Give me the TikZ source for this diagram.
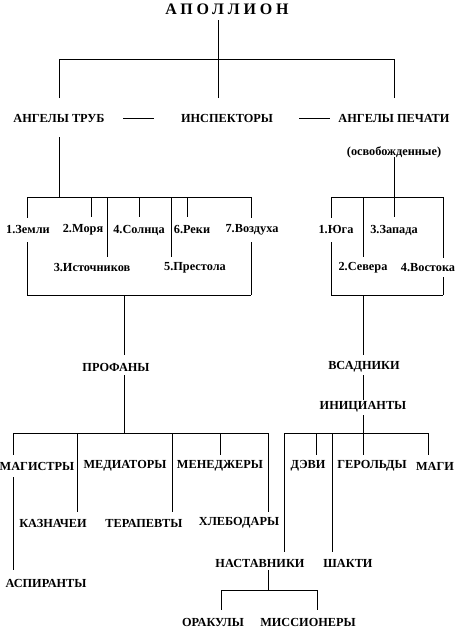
\documentclass[tikz,border=0pt]{standalone}
\usepackage{fontspec}
\setmainfont{Liberation Serif}
\begin{document}
\begin{tikzpicture}[x=1pt,y=-1pt,
  every node/.style={font=\bfseries\fontsize{12.3}{14}\selectfont, inner sep=0pt},
  ln/.style={line width=1pt}]
\useasboundingbox (0,0) rectangle (456,630);
% nodes
\node (title) at (227,9.5) {\fontsize{16}{18}\selectfont\addfontfeatures{LetterSpace=24}АПОЛЛИОН};
\node (tr) at (59,118) {АНГЕЛЫ ТРУБ};
\node (insp) at (227,118) {ИНСПЕКТОРЫ};
\node (pech) at (394,118) {АНГЕЛЫ ПЕЧАТИ};
\node (osv) at (394,152) {(освобожденные)};
\node (z1) at (28,230) {1.Земли};
\node (z2) at (83,230) {2.Моря};
\node (z4) at (139,230) {4.Солнца};
\node (z6) at (192,230) {6.Реки};
\node (z7) at (252,230) {7.Воздуха};
\node (z3) at (92,268) {3.Источников};
\node (z5) at (195,268) {5.Престола};
\node (s1) at (336,230) {1.Юга};
\node (s3) at (394,230) {3.Запада};
\node (s2) at (363,268) {2.Севера};
\node (s4) at (428,268) {4.Востока};
\node (prof) at (116,367) {ПРОФАНЫ};
\node (vsad) at (364,367) {ВСАДНИКИ};
\node (init) at (363,407) {ИНИЦИАНТЫ};
\node (mag) at (37,466) {МАГИСТРЫ};
\node (med) at (125,466) {МЕДИАТОРЫ};
\node (men) at (220,466) {МЕНЕДЖЕРЫ};
\node (kaz) at (53,523) {КАЗНАЧЕИ};
\node (ter) at (144,523) {ТЕРАПЕВТЫ};
\node (hleb) at (239,523) {ХЛЕБОДАРЫ};
\node (asp) at (46,583) {АСПИРАНТЫ};
\node (devi) at (308,466) {ДЭВИ};
\node (ger) at (372,466) {ГЕРОЛЬДЫ};
\node (magi) at (435,466) {МАГИ};
\node (nast) at (260,563) {НАСТАВНИКИ};
\node (shak) at (348,563) {ШАКТИ};
\node (orak) at (213,622) {ОРАКУЛЫ};
\node (miss) at (308,622) {МИССИОНЕРЫ};
% junctions
\coordinate (ja) at (218,59);
\coordinate (lbnw) at (27,197); \coordinate (lbne) at (251,197);
\coordinate (lbsw) at (27,295); \coordinate (lbse) at (251,295);
\coordinate (rbnw) at (331,197); \coordinate (rbne) at (443,197);
\coordinate (rbsw) at (331,295); \coordinate (rbse) at (443,295);
\coordinate (lbot) at (124,295); \coordinate (rbot) at (363,295);
\coordinate (pl) at (13,433); \coordinate (pr) at (268,433);
\coordinate (ql) at (284,433); \coordinate (qr) at (428,433);
\coordinate (nl) at (221,590); \coordinate (nr) at (317,590);
% top
\draw[ln] (title.center) ++(-9,10.5) -- (ja);
\draw[ln] (tr |- ja) -- (pech |- ja);
\draw[ln] (tr.center) ++(0,-20) -- (tr |- ja);
\draw[ln] (insp.center -| ja) ++(0,-20) -- (ja);
\draw[ln] (pech.center) ++(0,-20) -- (pech |- ja);
\draw[ln] (tr.center) ++(64,0) -- ++(31,0);
\draw[ln] (insp.center) ++(72,0) -- ++(31,0);
\draw[ln] (tr.center) ++(0,19) -- (tr |- lbnw);
% left box
\draw[ln] (lbnw) -- (lbne);
\draw[ln] (lbsw) -- (lbse);
\draw[ln] (lbnw) -- ++(0,21);
\draw[ln] (z1.center -| lbnw) ++(0,12) -- (lbsw);
\draw[ln] (lbne) -- ++(0,21);
\draw[ln] (z7.center -| lbne) ++(0,12) -- (lbse);
\draw[ln] (lbnw) ++(64,0) -- ++(0,20);
\draw[ln] (lbnw) ++(80,0) -- ++(0,60);
\draw[ln] (lbnw) ++(112,0) -- ++(0,20);
\draw[ln] (lbnw) ++(144,0) -- ++(0,60);
\draw[ln] (lbnw) ++(160,0) -- ++(0,20);
% right box
\draw[ln] (osv.center) ++(0,5) -- ++(0,60);
\draw[ln] (rbnw) -- (rbne);
\draw[ln] (rbsw) -- (rbse);
\draw[ln] (rbnw) -- ++(0,21);
\draw[ln] (s1.center -| rbnw) ++(0,12) -- (rbsw);
\draw[ln] (rbnw) ++(32,0) -- ++(0,60);
\draw[ln] (rbne) -- ++(0,61);
\draw[ln] (s4.center -| rbne) ++(0,9) -- (rbse);
% left lower
\draw[ln] (lbot) -- ++(0,60);
\draw[ln] (prof.center -| lbot) ++(0,8) -- (pl -| lbot);
\draw[ln] (pl) -- (pr);
\draw[ln] (pl) -- ++(0,22);
\draw[ln] (mag.center -| pl) ++(0,11) -- ++(0,93);
\draw[ln] (pl) ++(64,0) -- ++(0,79);
\draw[ln] (pl) ++(159,0) -- ++(0,79);
\draw[ln] (pl) ++(207,0) -- ++(0,22);
\draw[ln] (pr) -- ++(0,79);
% right lower
\draw[ln] (rbot) -- ++(0,60);
\draw[ln] (vsad.center -| rbot) ++(0,8) -- ++(0,25);
\draw[ln] (init.center -| rbot) ++(0,8) -- ++(0,40);
\draw[ln] (ql) -- (qr);
\draw[ln] (ql) -- ++(0,119);
\draw[ln] (ql) ++(32,0) -- ++(0,22);
\draw[ln] (ql) ++(48,0) -- ++(0,119);
\draw[ln] (qr) -- ++(0,22);
\draw[ln] (nast.center) ++(8,7) -- ++(0,20);
\draw[ln] (nl) -- (nr);
\draw[ln] (nl) -- ++(0,20);
\draw[ln] (nr) -- ++(0,20);
\end{tikzpicture}
\end{document}
